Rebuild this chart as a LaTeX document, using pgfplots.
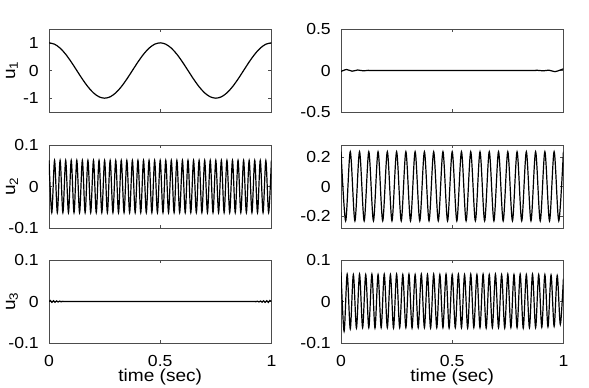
\documentclass[border=0pt]{standalone}
\usepackage{fontspec}
\setmainfont{Liberation Sans}[FakeStretch=1.1]
\usepackage{pgfplots}
\pgfplotsset{compat=1.18}

\pgfplotsset{
  mlpanel/.style={
    scale only axis, width=166.8pt, height=62.25pt,
    anchor=north west,
    xmin=0, xmax=1, xtick={0,0.5,1},
    tick align=inside, tick pos=both,
    major tick length=2.2pt,
    axis line style={black!70, line width=0.45pt},
    tick style={black!70, line width=0.45pt},
    ticklabel style={font=\fontsize{12}{14}\selectfont},
    /pgf/number format/assume math mode=true,
    yticklabel style={anchor=east, inner sep=0pt, xshift=-7.5pt},
    xticklabel style={anchor=base, inner sep=0pt, yshift=-17.5pt},
    xticklabels={},
    every axis y label/.style={at={([xshift=-27.75pt]rel axis cs:0,0.5)}, rotate=90, anchor=center,
      font=\fontsize{13}{15}\selectfont},
    every axis x label/.style={at={([yshift=-29pt]rel axis cs:0.5,0)}, anchor=base, inner sep=0pt,
      font=\fontsize{13}{15}\selectfont},
    every axis plot post/.append style={black, solid, line width=0.9pt, smooth, mark=none},
  },
}

\begin{document}
\begin{tikzpicture}
\useasboundingbox (0,0) rectangle (441.75pt,-290.25pt);

% ---- left column ----
\begin{axis}[mlpanel, at={(36.75pt,-21.75pt)},
  ymin=-1.5, ymax=1.5, ytick={-1,0,1}, yticklabels={-1,0,1},
  ylabel={u\textsubscript{1}}]
\addplot coordinates {
(0,1) (0.025,0.9511) (0.05,0.809) (0.075,0.5878) (0.1,0.309) (0.125,0) (0.15,-0.309) (0.175,-0.5878) (0.2,-0.809) (0.225,-0.9511)
(0.25,-1) (0.275,-0.9511) (0.3,-0.809) (0.325,-0.5878) (0.35,-0.309) (0.375,0) (0.4,0.309) (0.425,0.5878) (0.45,0.809) (0.475,0.9511)
(0.5,1) (0.525,0.9511) (0.55,0.809) (0.575,0.5878) (0.6,0.309) (0.625,0) (0.65,-0.309) (0.675,-0.5878) (0.7,-0.809) (0.725,-0.9511)
(0.75,-1) (0.775,-0.9511) (0.8,-0.809) (0.825,-0.5878) (0.85,-0.309) (0.875,0) (0.9,0.309) (0.925,0.5878) (0.95,0.809) (0.975,0.9511)
(1,1)};
\end{axis}

\begin{axis}[mlpanel, at={(36.75pt,-108.75pt)},
  ymin=-0.1, ymax=0.1, ytick={-0.1,0,0.1}, yticklabels={-0.1,0,0.1},
  ylabel={u\textsubscript{2}}]
\addplot coordinates {
(0,0.063) (0.0125,-0.063) (0.025,0.063) (0.0375,-0.063) (0.05,0.063) (0.0625,-0.063) (0.075,0.063) (0.0875,-0.063)
(0.1,0.063) (0.1125,-0.063) (0.125,0.063) (0.1375,-0.063) (0.15,0.063) (0.1625,-0.063) (0.175,0.063) (0.1875,-0.063)
(0.2,0.063) (0.2125,-0.063) (0.225,0.063) (0.2375,-0.063) (0.25,0.063) (0.2625,-0.063) (0.275,0.063) (0.2875,-0.063)
(0.3,0.063) (0.3125,-0.063) (0.325,0.063) (0.3375,-0.063) (0.35,0.063) (0.3625,-0.063) (0.375,0.063) (0.3875,-0.063)
(0.4,0.063) (0.4125,-0.063) (0.425,0.063) (0.4375,-0.063) (0.45,0.063) (0.4625,-0.063) (0.475,0.063) (0.4875,-0.063)
(0.5,0.063) (0.5125,-0.063) (0.525,0.063) (0.5375,-0.063) (0.55,0.063) (0.5625,-0.063) (0.575,0.063) (0.5875,-0.063)
(0.6,0.063) (0.6125,-0.063) (0.625,0.063) (0.6375,-0.063) (0.65,0.063) (0.6625,-0.063) (0.675,0.063) (0.6875,-0.063)
(0.7,0.063) (0.7125,-0.063) (0.725,0.063) (0.7375,-0.063) (0.75,0.063) (0.7625,-0.063) (0.775,0.063) (0.7875,-0.063)
(0.8,0.063) (0.8125,-0.063) (0.825,0.063) (0.8375,-0.063) (0.85,0.063) (0.8625,-0.063) (0.875,0.063) (0.8875,-0.063)
(0.9,0.063) (0.9125,-0.063) (0.925,0.063) (0.9375,-0.063) (0.95,0.063) (0.9625,-0.063) (0.975,0.063) (0.9875,-0.063)
(1,0.063)};
\end{axis}

\begin{axis}[mlpanel, at={(36.75pt,-195pt)},
  ymin=-0.1, ymax=0.1, ytick={-0.1,0,0.1}, yticklabels={-0.1,0,0.1},
  xticklabels={0,0.5,1},
  ylabel={u\textsubscript{3}}, xlabel={time (sec)}]
\addplot coordinates {
(0,0) (0.006,0.0025) (0.013,-0.002) (0.02,0.002) (0.027,-0.0018) (0.034,0.0015) (0.041,-0.0012) (0.048,0.001)
(0.055,-0.0008) (0.062,0.0005) (0.07,-0.0003) (0.08,0) (0.5,0) (0.9,0) (0.92,0.0003) (0.93,-0.0005) (0.937,0.0008)
(0.944,-0.001) (0.951,0.0012) (0.958,-0.0015) (0.965,0.0018) (0.972,-0.002) (0.979,0.002) (0.986,-0.0022) (0.993,0.0025) (1,0)};
\end{axis}

% ---- right column ----
\begin{axis}[mlpanel, at={(255.75pt,-21.75pt)},
  ymin=-0.5, ymax=0.5, ytick={-0.5,0,0.5}, yticklabels={-0.5,0,0.5}]
\addplot coordinates {
(0,-0.012) (0.025,0.012) (0.05,-0.008) (0.075,0.006) (0.1,-0.004) (0.125,0.003) (0.15,0) (0.5,0) (0.85,0)
(0.88,0.003) (0.91,-0.004) (0.935,0.004) (0.962,-0.014) (0.985,0.005) (1,0.02)};
\end{axis}

\begin{axis}[mlpanel, at={(255.75pt,-108.75pt)},
  ymin=-0.28, ymax=0.28, ytick={-0.2,0,0.2}, yticklabels={-0.2,0,0.2}]
\addplot coordinates {
(0,0.235) (0.02083,-0.232) (0.04167,0.235) (0.0625,-0.232) (0.08333,0.235) (0.10417,-0.232) (0.125,0.235) (0.14583,-0.232)
(0.16667,0.235) (0.1875,-0.232) (0.20833,0.235) (0.22917,-0.232) (0.25,0.235) (0.27083,-0.232) (0.29167,0.235) (0.3125,-0.232)
(0.33333,0.235) (0.35417,-0.232) (0.375,0.235) (0.39583,-0.232) (0.41667,0.235) (0.4375,-0.232) (0.45833,0.235) (0.47917,-0.232)
(0.5,0.235) (0.52083,-0.232) (0.54167,0.235) (0.5625,-0.232) (0.58333,0.235) (0.60417,-0.232) (0.625,0.235) (0.64583,-0.232)
(0.66667,0.235) (0.6875,-0.232) (0.70833,0.235) (0.72917,-0.232) (0.75,0.235) (0.77083,-0.232) (0.79167,0.235) (0.8125,-0.232)
(0.83333,0.235) (0.85417,-0.232) (0.875,0.235) (0.89583,-0.232) (0.91667,0.235) (0.9375,-0.232) (0.95833,0.235) (0.97917,-0.232)
(1,0.235)};
\end{axis}

\begin{axis}[mlpanel, at={(255.75pt,-195pt)},
  ymin=-0.1, ymax=0.1, ytick={-0.1,0,0.1}, yticklabels={-0.1,0,0.1},
  xticklabels={0,0.5,1}, xlabel={time (sec)}]
\addplot coordinates {
(0,0.07) (0.01389,-0.072) (0.02778,0.066) (0.04167,-0.066) (0.05556,0.065) (0.06944,-0.064) (0.08333,0.066) (0.09722,-0.063)
(0.11111,0.065) (0.125,-0.063) (0.13889,0.066) (0.15278,-0.064) (0.16667,0.065) (0.18056,-0.063) (0.19444,0.066) (0.20833,-0.063)
(0.22222,0.065) (0.23611,-0.064) (0.25,0.066) (0.26389,-0.063) (0.27778,0.065) (0.29167,-0.063) (0.30556,0.066) (0.31944,-0.064)
(0.33333,0.065) (0.34722,-0.063) (0.36111,0.066) (0.375,-0.063) (0.38889,0.065) (0.40278,-0.064) (0.41667,0.066) (0.43056,-0.063)
(0.44444,0.065) (0.45833,-0.063) (0.47222,0.066) (0.48611,-0.064) (0.5,0.065) (0.51389,-0.063) (0.52778,0.066) (0.54167,-0.063)
(0.55556,0.065) (0.56944,-0.064) (0.58333,0.066) (0.59722,-0.063) (0.61111,0.065) (0.625,-0.063) (0.63889,0.066) (0.65278,-0.064)
(0.66667,0.065) (0.68056,-0.063) (0.69444,0.066) (0.70833,-0.063) (0.72222,0.065) (0.73611,-0.064) (0.75,0.066) (0.76389,-0.063)
(0.77778,0.065) (0.79167,-0.063) (0.80556,0.066) (0.81944,-0.064) (0.83333,0.065) (0.84722,-0.063) (0.86111,0.066) (0.875,-0.063)
(0.88889,0.065) (0.90278,-0.062) (0.91667,0.065) (0.93056,-0.061) (0.94444,0.064) (0.95833,-0.06) (0.97222,0.063) (0.98611,-0.055)
(1,0.055)};
\end{axis}
\end{tikzpicture}
\end{document}
